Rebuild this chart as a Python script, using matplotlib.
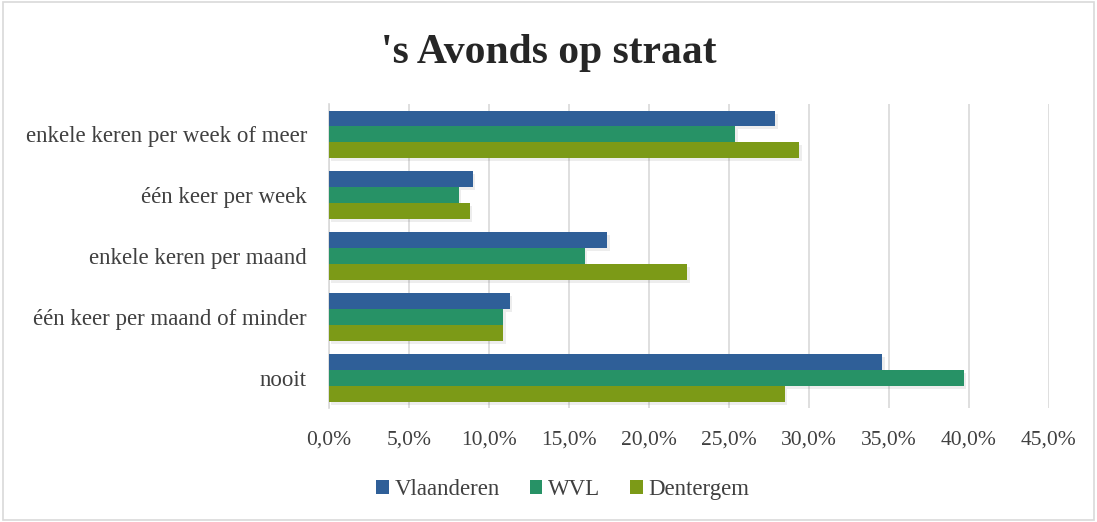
import numpy as np
import matplotlib
matplotlib.use("Agg")
import matplotlib.pyplot as plt
from matplotlib.patches import Rectangle

categories = ["nooit", "één keer per maand of minder", "enkele keren per maand",
              "één keer per week", "enkele keren per week of meer"]
vlaanderen = [34.6, 11.3, 17.4, 9.0, 27.9]
wvl = [39.7, 10.9, 16.0, 8.1, 25.4]
dentergem = [28.5, 10.9, 22.4, 8.8, 29.4]
series_names = ["Vlaanderen", "WVL", "Dentergem"]
colors = ["#2F5F98", "#279266", "#7C9A17"]
xticks = np.arange(0, 46, 5)

plt.rcParams['font.family'] = ['Liberation Serif', 'DejaVu Serif']

fig = plt.figure(figsize=(10.97, 5.22), dpi=100)
ax = fig.add_axes([0.300, 0.218, 0.656, 0.583])

y = np.arange(len(categories))
h = 0.26
series = [vlaanderen, wvl, dentergem]
handles = []
for i, (vals, name, c) in enumerate(zip(series, series_names, colors)):
    pos = y + (1 - i) * h
    # soft shadow under the bar
    ax.barh(pos - 0.05, vals, height=h, left=0.15, color="#000000", alpha=0.07,
            zorder=2, linewidth=0)
    b = ax.barh(pos, vals, height=h, color=c, label=name, zorder=3, linewidth=0)
    handles.append(b)

ax.set_xlim(0, 45)
ax.set_ylim(-0.5, len(categories) - 0.5)
ax.set_xticks(xticks)
ax.set_xticklabels([f"{v:.1f}%".replace(".", ",") for v in xticks],
                   fontsize=15.5, color="#404040")
ax.set_yticks(y)
ax.set_yticklabels(categories, fontsize=16.5, color="#404040")
ax.tick_params(axis="x", length=0, pad=16)
ax.tick_params(axis="y", length=0, pad=16)
ax.grid(axis="x", color="#D9D9D9", linewidth=1.2, zorder=0)
for s in ["top", "right", "bottom"]:
    ax.spines[s].set_visible(False)
ax.spines["left"].set_color("#D9D9D9")
ax.spines["left"].set_linewidth(1.2)

fig.suptitle("'s Avonds op straat", fontsize=30, fontweight="bold",
             color="#262626", y=0.935)

fig.legend(handles=handles, labels=series_names, loc="center", ncol=3,
           bbox_to_anchor=(0.513, 0.062), frameon=False, fontsize=16.5,
           handlelength=0.55, handleheight=0.55, handletextpad=0.25,
           columnspacing=1.3, labelcolor="#404040")

fig.patches.append(Rectangle((0.003, 0.004), 0.994, 0.992, transform=fig.transFigure,
                             fill=False, edgecolor="#D9D9D9", linewidth=1.2))

fig.savefig("out.png", dpi=100)
